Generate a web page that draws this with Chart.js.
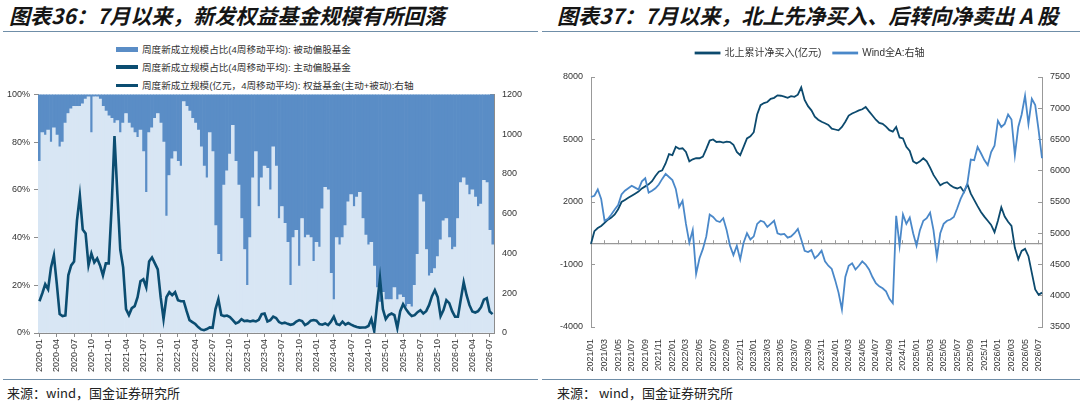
<!DOCTYPE html>
<html><head><meta charset="utf-8">
<script src="https://cdn.jsdelivr.net/npm/chart.js@4.4.1/dist/chart.umd.min.js"></script>
<style>
body{margin:0;width:1080px;height:406px;background:#fff;position:relative;overflow:hidden;font-family:"Liberation Sans","Noto Sans CJK SC",sans-serif;}
.title{position:absolute;top:2px;font-family:"Noto Sans CJK SC",sans-serif;font-size:21px;line-height:26px;font-weight:bold;font-style:italic;color:#151515;white-space:nowrap;}
.rule{position:absolute;height:0;border-top:1.5px solid #6f8ea8;}
.src{position:absolute;top:384px;font-family:"Noto Sans CJK SC",sans-serif;font-size:13px;line-height:17px;color:#222;white-space:nowrap;}
.lg{position:absolute;left:116px;font-size:9.6px;line-height:12px;color:#333;white-space:nowrap;font-family:"Liberation Sans","Noto Sans CJK SC",sans-serif;}
.lg i{display:inline-block;width:22px;vertical-align:middle;margin-right:4px;position:relative;top:-1px}
canvas{position:absolute}
</style></head>
<body>
<div class="title" style="left:9px">图表36：7月以来，新发权益基金规模有所回落</div>
<div class="title" style="left:557px">图表37：7月以来，北上先净买入、后转向净卖出 A 股</div>
<div class="rule" style="left:3px;width:535px;top:31px"></div>
<div class="rule" style="left:542px;width:538px;top:31px"></div>
<div class="lg" style="top:44px"><i style="height:5px;background:#5a8dc6"></i>周度新成立规模占比(4周移动平均): 被动偏股基金</div>
<div class="lg" style="top:62px"><i style="height:4px;background:#0b4d71"></i>周度新成立规模占比(4周移动平均): 主动偏股基金</div>
<div class="lg" style="top:80px"><i style="height:2.5px;background:#0b4d71"></i>周度新成立规模(亿元，4周移动平均): 权益基金(主动+被动):右轴</div>
<canvas id="c1" width="540" height="301" style="left:0;top:77px"></canvas>
<canvas id="c2" width="540" height="342" style="left:540px;top:36px"></canvas>
<div class="rule" style="left:3px;width:535px;top:379px"></div>
<div class="rule" style="left:542px;width:538px;top:379px"></div>
<div class="src" style="left:7px">来源：wind，国金证券研究所</div>
<div class="src" style="left:557px">来源： wind，国金证券研究所</div>
<script>
// ---------- Chart 36 data (semi-monthly, 2020-01 .. 2026-07) ----------
const fundDates = [];
for (let y = 2020; y <= 2026; y++) {
  for (let m = 1; m <= 12; m++) {
    if (y === 2026 && m > 7) break;
    const mm = String(m).padStart(2, '0');
    fundDates.push(y + '-' + mm + '-01', y + '-' + mm + '-16');
  }
}
// share of active equity funds (%), bottom of stack
const activeShare = [72,84,83,85,80,86,83,78,80,88,
 92,94,95,95,95,96,98,99,84,99,
 99,98,95,93,91,90,88,89,84,88,
 92,88,86,84,82,85,76,59,84,86,
 90,92,88,80,49,66,73,76,72,70,
 97,95,93,90,88,85,78,70,65,84,
 76,45,33,30,62,68,75,87,72,62,
 48,35,20,40,65,76,53,65,70,69,
 60,78,70,48,53,46,38,20,40,43,
 28,48,40,41,40,30,38,36,52,61,
 60,25,14,40,37,40,45,55,58,53,
 57,59,48,41,37,38,28,19,13,17,
 14,14,14,19,14,16,15,11,12,11,
 20,33,58,55,35,24,25,27,32,39,
 47,48,40,35,36,48,63,65,62,58,
 60,57,53,54,64,63,43,37];
// share of passive equity funds (%), top of stack
const passiveShare = [28,16,17,15,20,14,17,22,20,12,
 8,6,5,5,5,4,2,1,16,1,
 1,2,5,7,9,10,12,11,16,12,
 8,12,14,16,18,15,24,41,16,14,
 10,8,12,20,51,34,27,24,28,30,
 3,5,7,10,12,15,22,30,35,16,
 24,55,67,70,38,32,25,13,28,38,
 52,65,80,60,35,24,47,35,30,31,
 40,22,30,52,47,54,62,80,60,57,
 72,52,60,59,60,70,62,64,48,39,
 40,75,86,60,63,60,55,45,42,47,
 43,41,52,59,63,62,72,81,87,83,
 86,86,86,81,86,84,85,89,88,89,
 80,67,42,45,65,76,75,73,68,61,
 53,52,60,65,64,52,37,35,38,42,
 40,43,47,46,36,37,57,63];
// new equity fund issuance, 100m CNY (right axis)
const fundScale = [160,200,245,220,330,390,250,95,85,88,
 290,340,360,565,690,520,500,340,400,355,
 375,340,290,350,350,630,990,700,420,330,
 120,90,125,135,180,260,270,230,360,380,
 350,320,180,70,180,205,190,205,165,160,
 160,110,65,55,45,30,18,14,20,28,
 26,120,170,90,85,88,80,65,48,55,
 70,60,62,58,
 62,58,66,95,98,58,65,82,75,55,
 48,52,46,41,45,58,65,60,40,48,
 62,65,62,45,42,48,40,57,82,45,
 40,57,42,50,42,35,30,27,28,28,
 35,70,10,148,275,120,70,90,98,90,
 25,110,145,120,100,85,90,105,115,98,
 110,140,185,215,180,85,115,165,150,110,
 82,82,170,255,190,140,108,103,110,130,
 168,175,108,95];
const leftTicks36 = {min: 0, max: 100, step: 20};
const rightTicks36 = {min: 0, max: 1200, step: 200};

// ---------- Chart 37 data (semi-monthly, 2021/01 .. 2026/07) ----------
const nbDates = [];
for (let y = 2021; y <= 2026; y++) {
  for (let m = 1; m <= 12; m++) {
    if (y === 2026 && m > 7) break;
    const mm = String(m).padStart(2, '0');
    nbDates.push(y + '/' + mm, y + '/' + mm + 'b');
  }
}
const northNet = [0,600,750,850,1000,1150,1250,1400,1650,2000,
 2100,2200,2300,2400,2500,2650,2750,2850,3000,3250,
 3450,3520,3850,4300,4250,4650,4550,4580,4400,3950,
 4050,4100,4100,4180,4550,4950,5000,4880,4900,4850,
 4900,4880,4750,4400,4250,4650,5050,5150,5350,6200,
 6650,6750,6800,6950,7000,7120,7100,7060,7000,7080,
 7050,7150,7500,6900,6600,6400,6100,5950,5850,5780,
 5700,5520,5480,5440,5600,5850,6150,6250,6320,6400,
 6450,6560,6350,6150,5950,5800,5750,5620,5450,5380,
 5600,5100,5050,4650,4450,3950,3850,3950,4100,3950,
 3650,3300,3050,2800,2900,2950,2800,2700,2650,2720,
 2480,2850,2400,2100,1800,1520,1300,1100,900,550,
 1100,1750,1300,1050,850,-200,-750,-350,-250,-600,
 -1400,-2200,-2450,-2350];
const windA = [5580,5600,5700,5550,5200,5230,5300,5380,5450,5620,
 5680,5720,5760,5730,5700,5830,5880,5650,5680,5720,
 5780,5870,5950,5900,5850,5710,5420,5520,5150,4850,
 5050,4350,4600,4750,4950,5300,5260,5200,5180,5240,
 5050,4800,4650,4800,4580,4850,5000,4900,4950,5150,
 5200,5180,5100,5150,5200,5000,4980,4990,4930,4950,
 5000,5070,4900,4720,4700,4730,4600,4650,4720,4550,
 4480,4430,4250,4050,3780,4300,4480,4520,4420,4480,
 4550,4500,4420,4300,4200,4150,4120,4070,3950,3880,
 5280,4800,5300,5150,5250,5000,4800,5050,5200,5240,
 5330,5050,4620,5000,5150,5200,5220,5260,5400,5550,
 5660,5800,6180,6170,6380,6280,6170,6090,6300,6400,
 6800,6700,6750,6900,6820,6250,6700,6900,7200,6750,
 7150,7050,6650,6200];
const leftTicks37 = {min: -4000, max: 8000, step: 3000};
const rightTicks37 = {min: 3500, max: 7500, step: 500};

Chart.defaults.font.family = '"Liberation Sans","Noto Sans CJK SC",sans-serif';
Chart.defaults.font.size = 9;
Chart.defaults.color = '#333';
const AX = '#8c8c8c';
const plain = v => String(v);

new Chart(document.getElementById('c1'), {
  type: 'bar',
  data: {
    labels: fundDates,
    datasets: [
      {label: '周度新成立规模占比(4周移动平均): 主动偏股基金', data: activeShare, backgroundColor: '#d8e6f4',
       yAxisID: 'y', stack: 's', order: 1, barPercentage: 1, categoryPercentage: 1, borderWidth: 0},
      {label: '周度新成立规模占比(4周移动平均): 被动偏股基金', data: passiveShare, backgroundColor: '#5a8dc6',
       yAxisID: 'y', stack: 's', order: 2, barPercentage: 1, categoryPercentage: 1, borderWidth: 0},
      {type: 'line', label: '周度新成立规模(亿元，4周移动平均): 权益基金(主动+被动):右轴', data: fundScale,
       borderColor: '#0b4d71', backgroundColor: '#0b4d71', borderWidth: 2.6, pointRadius: 0, tension: 0,
       yAxisID: 'y1', order: 0}
    ]
  },
  options: {
    responsive: false, animation: false,
    layout: {padding: {top: 7, left: 0, right: 0, bottom: 0}},
    plugins: {legend: {display: false}, tooltip: {enabled: false}},
    scales: {
      x: {
        offset: true,
        grid: {display: true, drawOnChartArea: false, offset: false, tickLength: 4,
               color: c => (c.index % 6 === 0 ? AX : 'rgba(0,0,0,0)')},
        border: {color: AX},
        ticks: {autoSkip: false, minRotation: 90, maxRotation: 90, padding: 2,
                callback: (v, i) => (i % 6 === 0 ? fundDates[i].slice(0, 7) : '')},
        afterFit: s => { s.height = 45; }
      },
      y: {
        stacked: true, min: leftTicks36.min, max: leftTicks36.max,
        ticks: {stepSize: leftTicks36.step, callback: v => v + '%', padding: 4},
        grid: {drawOnChartArea: false, tickLength: 4, color: AX},
        border: {color: AX},
        afterFit: s => { s.width = 38; }
      },
      y1: {
        position: 'right', min: rightTicks36.min, max: rightTicks36.max,
        ticks: {stepSize: rightTicks36.step, padding: 12, callback: plain},
        grid: {drawOnChartArea: false, tickLength: -4, color: AX},
        border: {color: AX},
        afterFit: s => { s.width = 46; }
      }
    }
  }
});

const legendGap = {
  id: 'legendGap',
  beforeInit(chart) {
    const fit = chart.legend.fit;
    chart.legend.fit = function () { fit.call(this); this.height += 9; };
  }
};

new Chart(document.getElementById('c2'), {
  type: 'line',
  data: {
    labels: nbDates,
    datasets: [
      {label: '北上累计净买入(亿元)', data: northNet, borderColor: '#0c4a6e', backgroundColor: '#0c4a6e',
       borderWidth: 1.8, pointRadius: 0, tension: 0, yAxisID: 'y', xAxisID: 'x', order: 1},
      {label: 'Wind全A:右轴', data: windA, borderColor: '#4a88c9', backgroundColor: '#4a88c9',
       borderWidth: 1.8, pointRadius: 0, tension: 0, yAxisID: 'y1', xAxisID: 'x', order: 0}
    ]
  },
  plugins: [legendGap],
  options: {
    responsive: false, animation: false,
    layout: {padding: {top: 0, left: 0, right: 0, bottom: 0}},
    plugins: {
      tooltip: {enabled: false},
      legend: {position: 'top', labels: {boxWidth: 24, boxHeight: 1, padding: 12,
               font: {size: 10}, color: '#333', sort: (a, b) => a.datasetIndex - b.datasetIndex}}
    },
    scales: {
      x: {
        offset: false,
        grid: {display: false},
        border: {display: false},
        ticks: {autoSkip: false, minRotation: 90, maxRotation: 90, padding: 4,
                callback: (v, i) => (i % 4 === 0 ? nbDates[i] : '')},
        afterFit: s => { s.height = 51; }
      },
      x2: {
        type: 'category', position: {y: 0}, offset: false,
        ticks: {display: false},
        grid: {drawOnChartArea: false, offset: false, tickLength: -4,
               color: c => (c.index % 4 === 0 ? '#999' : 'rgba(0,0,0,0)')},
        border: {color: '#999', width: 1.2}
      },
      y: {
        position: 'left', min: leftTicks37.min, max: leftTicks37.max,
        ticks: {stepSize: leftTicks37.step, padding: 12, callback: plain},
        grid: {drawOnChartArea: false, tickLength: -4, color: '#999'},
        border: {color: '#999'},
        afterFit: s => { s.width = 51; }
      },
      y1: {
        position: 'right', min: rightTicks37.min, max: rightTicks37.max,
        ticks: {stepSize: rightTicks37.step, padding: 12, callback: plain},
        grid: {drawOnChartArea: false, tickLength: -4, color: '#999'},
        border: {color: '#999'},
        afterFit: s => { s.width = 38; }
      }
    }
  }
});
</script>
</body></html>
